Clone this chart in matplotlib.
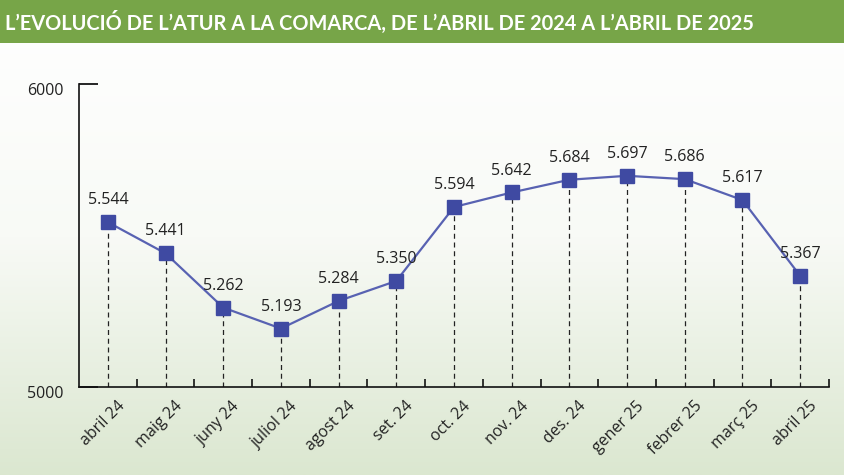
import matplotlib.pyplot as plt
import matplotlib.transforms as mtransforms
from matplotlib.patches import Rectangle
from matplotlib.colors import LinearSegmentedColormap
import numpy as np

# Dades
mesos = ["abril 24", "maig 24", "juny 24", "juliol 24", "agost 24", "set. 24",
         "oct. 24", "nov. 24", "des. 24", "gener 25", "febrer 25", "març 25", "abril 25"]
aturats = [5544, 5441, 5262, 5193, 5284, 5350, 5594, 5642, 5684, 5697, 5686, 5617, 5367]
etiquetes = ["5.544", "5.441", "5.262", "5.193", "5.284", "5.350", "5.594",
             "5.642", "5.684", "5.697", "5.686", "5.617", "5.367"]
titol = "L’EVOLUCIÓ DE L’ATUR A LA COMARCA, DE L’ABRIL DE 2024 A L’ABRIL DE 2025"

plt.rcParams['font.family'] = ['Open Sans', 'DejaVu Sans']

fig = plt.figure(figsize=(8.44, 4.75), dpi=100)

# fons en degradat
fons = fig.add_axes([0, 0, 1, 1], zorder=-5)
cmap = LinearSegmentedColormap.from_list("fons", ["#ffffff", "#f8faf6", "#dbe7d0"])
grad = np.linspace(0, 1, 256).reshape(-1, 1)
fons.imshow(grad, aspect="auto", cmap=cmap, extent=[0, 1, 0, 1], origin="upper")
fons.axis("off")

# banda del titol
fig.patches.append(Rectangle((0, 1 - 43 / 475), 1, 43 / 475, transform=fig.transFigure,
                             facecolor="#77a548", edgecolor="none", zorder=-1))
fig.text(5 / 844, 1 - 22 / 475, titol, color="white", fontsize=14.4, fontweight="bold",
         family=["Lato", "DejaVu Sans"], va="center", ha="left")

ax = fig.add_axes([79 / 844, 1 - 387 / 475, 750 / 844, 303 / 475])
ax.set_facecolor("none")

x = np.arange(len(mesos))
ax.plot(x, aturats, color="#5862b2", lw=1.6, zorder=3)
ax.plot(x, aturats, "s", color="#3f4aa2", markersize=9.5, zorder=4)

# linies discontinues
for xi, v in zip(x, aturats):
    ax.plot([xi, xi], [5000, v], color="#222222", lw=0.9, ls=(0, (4, 3)), zorder=2)

for xi, v, t in zip(x, aturats, etiquetes):
    ax.annotate(t, (xi, v), xytext=(0, 10), textcoords="offset points",
                ha="center", va="bottom", fontsize=11.5, color="#222222")

ax.set_xlim(-0.5, 12.5)
ax.set_ylim(5000, 6000)
ax.set_yticks([5000, 6000])
ax.set_yticklabels(["5000", "6000"])
ax.tick_params(axis="y", direction="in", length=14, width=1.2, pad=11,
               labelsize=11.5, labelcolor="#222222")
baixa = mtransforms.ScaledTranslation(0, -5 / 100, fig.dpi_scale_trans)
for lab in ax.get_yticklabels():
    lab.set_transform(lab.get_transform() + baixa)

ax.set_xticks(x)
ax.set_xticklabels(mesos, rotation=45, ha="right", va="top", rotation_mode="anchor")
ax.tick_params(axis="x", which="major", length=0, pad=8, labelsize=11.5, labelcolor="#222222")
ax.set_xticks(np.arange(0.5, 13, 1), minor=True)
ax.tick_params(axis="x", which="minor", direction="in", length=6, width=1.1)

desp = mtransforms.ScaledTranslation(9 / 100, 0, fig.dpi_scale_trans)
for lab in ax.get_xticklabels():
    lab.set_transform(lab.get_transform() + desp)

for s in ["top", "right"]:
    ax.spines[s].set_visible(False)
for s in ["left", "bottom"]:
    ax.spines[s].set_linewidth(1.2)
    ax.spines[s].set_color("#111111")

fig.savefig("out.png", dpi=100)
